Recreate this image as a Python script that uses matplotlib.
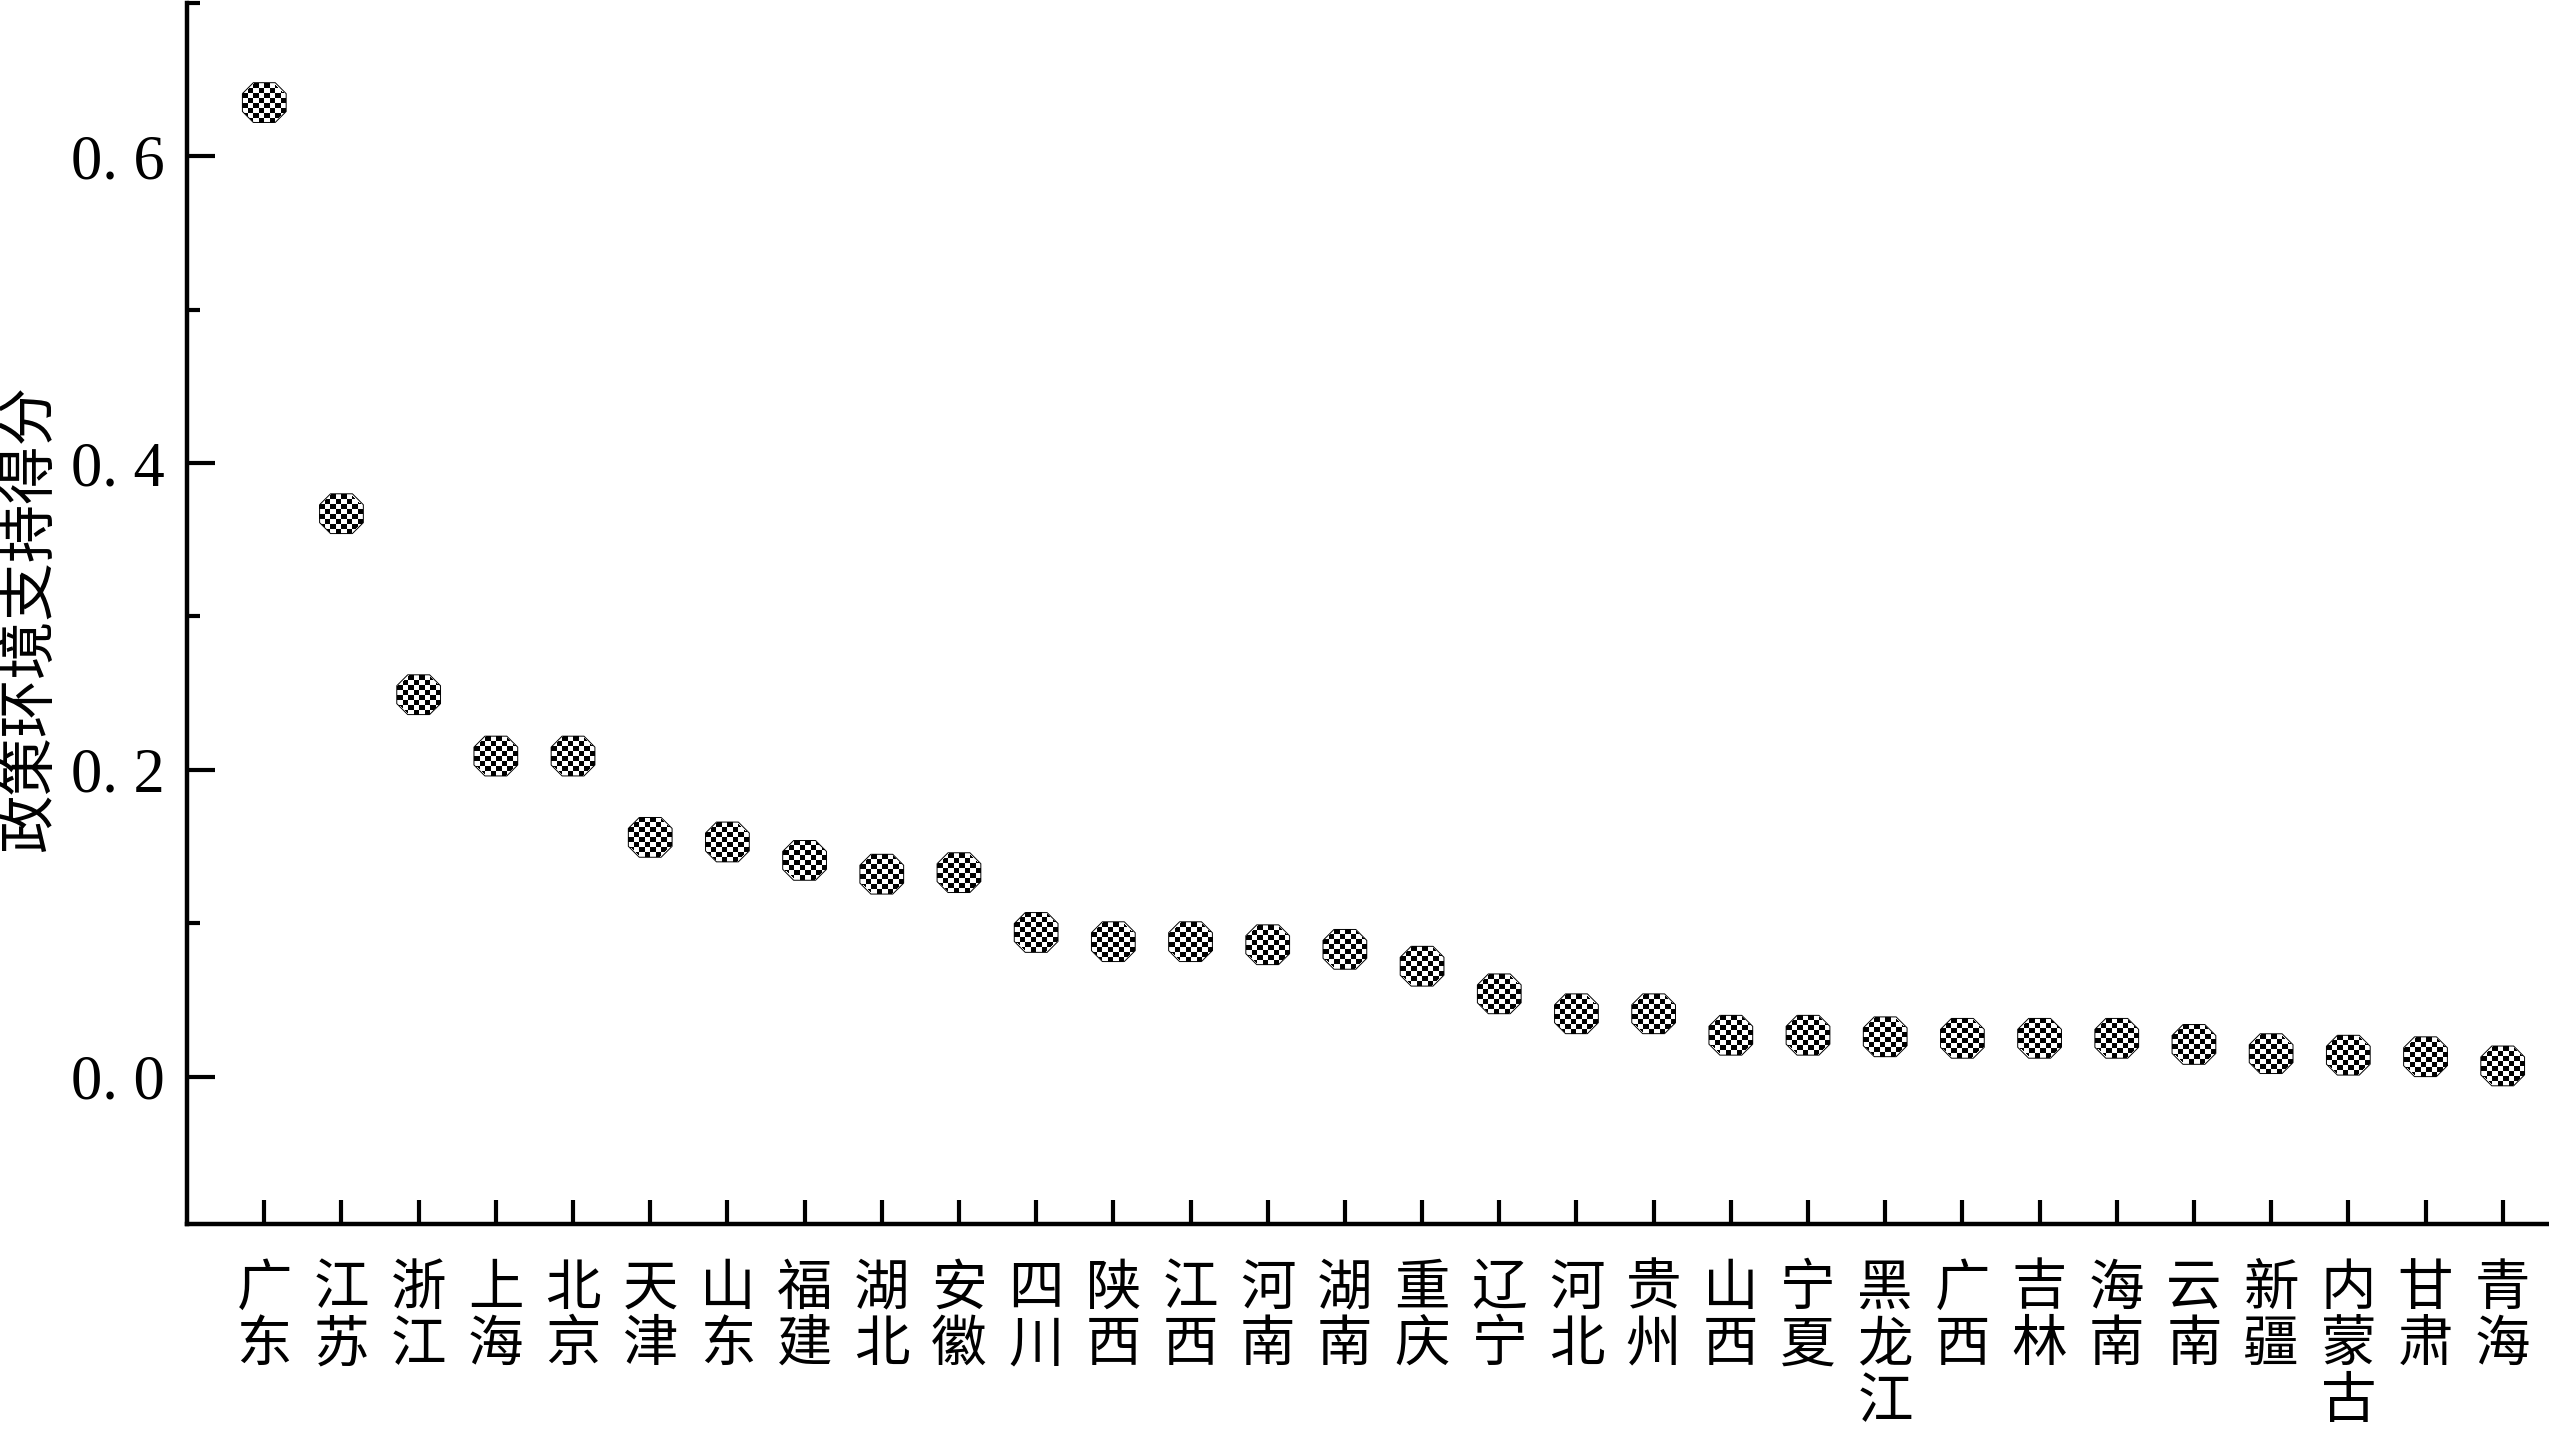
import numpy as np
import matplotlib
matplotlib.use("Agg")
import matplotlib.pyplot as plt
from matplotlib.path import Path
from matplotlib.offsetbox import OffsetImage, AnnotationBbox

provinces = ["广东", "江苏", "浙江", "上海", "北京", "天津", "山东", "福建", "湖北", "安徽",
             "四川", "陕西", "江西", "河南", "湖南", "重庆", "辽宁", "河北", "贵州", "山西",
             "宁夏", "黑龙江", "广西", "吉林", "海南", "云南", "新疆", "内蒙古", "甘肃", "青海"]
scores = [0.635, 0.367, 0.249, 0.209, 0.209, 0.156, 0.153, 0.141, 0.132, 0.133,
          0.094, 0.088, 0.088, 0.086, 0.083, 0.072, 0.054, 0.041, 0.041, 0.027,
          0.027, 0.026, 0.025, 0.025, 0.025, 0.021, 0.015, 0.014, 0.013, 0.007]
ytick_vals = [0.0, 0.2, 0.4, 0.6]
ytick_labels = ["0. 0", "0. 2", "0. 4", "0. 6"]
yminor_vals = [0.1, 0.3, 0.5, 0.7]
ylabel = "政策环境支持得分"

cjk = ["Noto Sans CJK SC", "DejaVu Sans"]
DPI = 100

# checkerboard octagon marker image (w x h pixels)
w, h = 44, 40
yy, xx = np.mgrid[0:h, 0:w]
cx = (xx - (w - 1) / 2) / ((w - 1) / 2)
cy = (yy - (h - 1) / 2) / ((h - 1) / 2)
mask = (np.abs(cx) + np.abs(cy) <= 1.45)
checker = ((xx * 8 // w + yy * 8 // h) % 2).astype(float)
img = np.ones((h, w, 4))
img[..., 0] = checker
img[..., 1] = checker
img[..., 2] = checker
img[..., 3] = mask.astype(float)

# outline path of the same octagon
t = 0.45
octa = Path([(1.1, -t), (1.1, t), (1.1 - 0.55, 1), (-0.55, 1), (-1.1, t), (-1.1, -t),
             (-0.55, -1), (0.55, -1), (1.1, -t)], closed=True)

fig = plt.figure(figsize=(25.49, 14.32), dpi=DPI)
ax = fig.add_axes([0.0734, 0.1453, 0.9266, 0.8527])

x = np.arange(len(provinces))
for xi, v in zip(x, scores):
    ab = AnnotationBbox(OffsetImage(img, zoom=72 / DPI, interpolation="nearest"), (xi, v),
                        frameon=False, pad=0, zorder=3)
    ax.add_artist(ab)
ax.scatter(x, scores, marker=octa, s=31.5 ** 2, facecolor="none", edgecolor="black",
           linewidth=0.7, zorder=4)

ax.set_xlim(-1, 29.6)
ax.set_ylim(-0.096, 0.7)

ax.set_xticks(x)
ax.set_xticklabels(["\n".join(p) for p in provinces], family=cjk, fontsize=40,
                   linespacing=0.98, va="top")
ax.set_yticks(ytick_vals)
ax.set_yticklabels(ytick_labels, family="Liberation Serif", fontsize=45)
ax.set_yticks(yminor_vals, minor=True)

ax.tick_params(axis="both", which="major", direction="in", length=20, width=3, color="black")
ax.tick_params(axis="y", which="major", pad=16)
ax.tick_params(axis="x", which="major", pad=26, length=17)
ax.tick_params(axis="y", which="minor", direction="in", length=9, width=3)

for s in ["top", "right"]:
    ax.spines[s].set_visible(False)
for s in ["left", "bottom"]:
    ax.spines[s].set_linewidth(3.2)

ax.set_ylabel(ylabel, family=cjk, fontsize=42)
ax.yaxis.set_label_coords(-0.054, 0.496)

fig.savefig("out.png", dpi=DPI)
